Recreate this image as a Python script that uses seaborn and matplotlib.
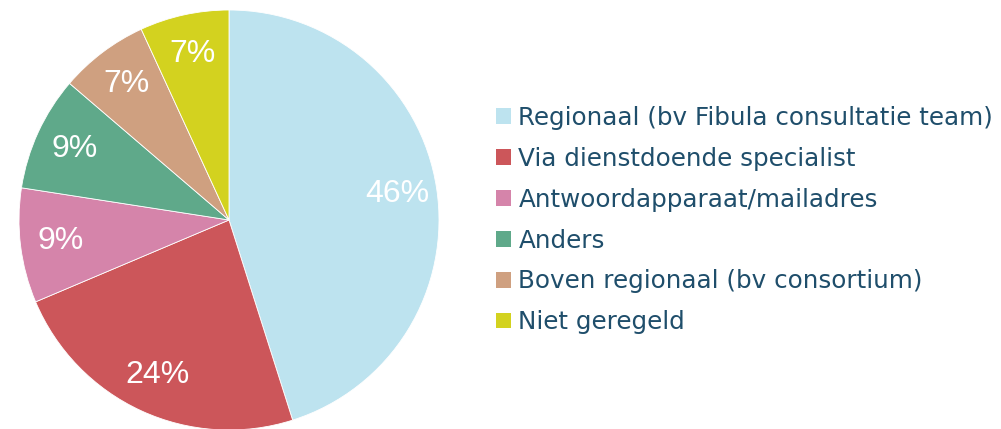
import matplotlib
matplotlib.use("Agg")
import matplotlib.pyplot as plt
import matplotlib.patches as mpatches
import seaborn as sns

categories = [
    "Regionaal (bv Fibula consultatie team)",
    "Via dienstdoende specialist",
    "Antwoordapparaat/mailadres",
    "Anders",
    "Boven regionaal (bv consortium)",
    "Niet geregeld",
]
values = [46, 24, 9, 9, 7, 7]
pct_labels = ["46%", "24%", "9%", "9%", "7%", "7%"]
colors = ["#BDE3EF", "#CC565A", "#D584AA", "#5FA98A", "#CFA080", "#D3D21F"]

sns.set_theme(style="white")
plt.rcParams["font.family"] = ["DejaVu Sans"]

fig = plt.figure(figsize=(10.01, 4.29), dpi=100)
ax = fig.add_axes([19 / 1001, (429 - 430) / 429, 420 / 1001, 420 / 429])

wedges, texts = ax.pie(
    values,
    labels=pct_labels,
    colors=colors,
    startangle=90,
    counterclock=False,
    labeldistance=0.81,
    radius=1.0,
    wedgeprops=dict(linewidth=0.6, edgecolor="white"),
    textprops=dict(color="white", fontsize=23, family="Liberation Sans"),
)
for t in texts:
    t.set_horizontalalignment("center")
    t.set_verticalalignment("center")
ax.set_xlim(-1, 1)
ax.set_ylim(-1, 1)
ax.set_aspect("equal")
ax.axis("off")

handles = [mpatches.Patch(facecolor=c, edgecolor="none") for c in colors]
leg = fig.legend(
    handles,
    categories,
    loc="upper left",
    bbox_to_anchor=(496 / 1001, 1 - 106 / 429),
    frameon=False,
    fontsize=17.7,
    handlelength=0.61,
    handleheight=0.61,
    handletextpad=0.3,
    labelspacing=0.685,
    borderaxespad=0,
    borderpad=0,
)
for t in leg.get_texts():
    t.set_color("#1F4E6B")

fig.savefig("out.png", dpi=100)
